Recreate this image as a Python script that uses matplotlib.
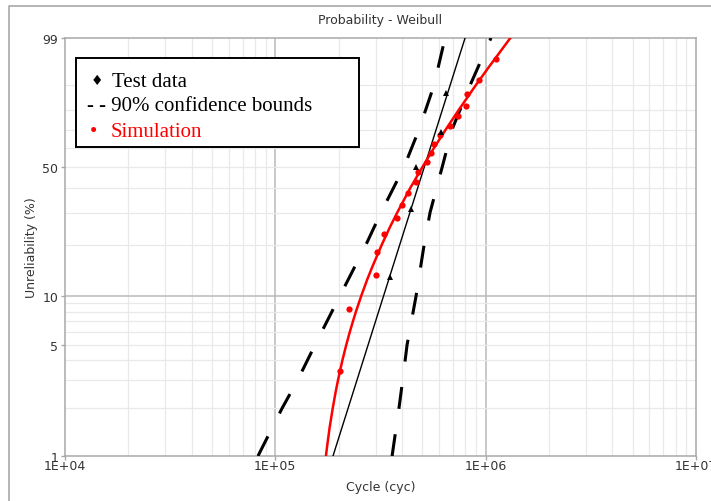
import numpy as np
import matplotlib
matplotlib.use('Agg')
import matplotlib.pyplot as plt
from matplotlib.lines import Line2D
from matplotlib.patches import Rectangle

#
# data (cycles, unreliability in %)
#
test_cyc = [3.51e5, 4.42e5, 4.67e5, 6.14e5, 6.48e5]
test_unrel = [12.94, 31.38, 50.0, 68.62, 87.06]

fit_cyc = [1.88e5, 7.98e5]
fit_unrel = [1.0, 99.0]

sim_cyc = [2.03e5, 2.24e5, 3.01e5, 3.04e5, 3.29e5, 3.79e5, 4.00e5, 4.28e5, 4.67e5, 4.77e5,
           5.27e5, 5.50e5, 5.68e5, 6.07e5, 6.77e5, 7.39e5, 8.07e5, 8.15e5, 9.30e5, 1.12e6]
sim_unrel = [3.43, 8.33, 13.24, 18.14, 23.04, 27.94, 32.84, 37.75, 42.65, 47.55,
             52.45, 57.35, 62.25, 67.16, 72.06, 76.96, 81.86, 86.76, 91.67, 96.57]

simfit_cyc = [1.74e5, 1.77e5, 1.81e5, 1.874e5, 1.931e5, 1.985e5, 2.083e5, 2.174e5, 2.259e5,
              2.34e5, 2.416e5, 2.563e5, 2.734e5, 2.90e5, 3.21e5, 3.505e5, 3.80e5, 4.38e5,
              5.00e5, 5.67e5, 6.46e5, 7.46e5, 8.97e5, 1.033e6, 1.31e6]
simfit_unrel = [1, 1.2, 1.5, 2, 2.5, 3, 4, 5, 6, 7, 8, 10, 12.5, 15, 20, 25, 30, 40,
                50, 60, 70, 80, 90, 95, 99]

bound_unrel = [1, 2, 3, 5, 10, 20, 30, 50, 70, 90, 99]
lower_cyc = [8.27e4, 1.076e5, 1.275e5, 1.545e5, 2.03e5, 2.70e5, 3.18e5, 4.09e5, 4.82e5, 5.68e5, 6.41e5]
upper_cyc = [3.59e5, 3.87e5, 4.03e5, 4.23e5, 4.67e5, 5.10e5, 5.44e5, 6.21e5, 6.92e5, 8.43e5, 1.06e6]

xtick_vals = [1e4, 1e5, 1e6, 1e7]
xtick_labels = ['1E+04', '1E+05', '1E+06', '1E+07']
ytick_vals = [1, 5, 10, 50, 99]
ytick_labels = ['1', '5', '10', '50', '99']
ygrid_vals = [2, 3, 4, 5, 6, 7, 8, 9, 20, 30, 40, 50, 60, 70, 80, 90]


def weib(p):
    p = np.clip(np.asarray(p, dtype=float), 1e-6, 100 - 1e-6)
    return np.log(-np.log(1 - p / 100.))


def weib_inv(w):
    return 100. * (1 - np.exp(-np.exp(np.asarray(w, dtype=float))))


W, H = 711, 502
fig = plt.figure(figsize=(W / 100., H / 100.), dpi=100, facecolor='w')
ax = fig.add_axes([65. / W, 1 - 457. / H, (696. - 65.) / W, (457. - 39.) / H])
ax.set_xscale('log')
ax.set_yscale('function', functions=(weib, weib_inv))
ax.set_xlim(1e4, 1e7)
ax.set_ylim(1, 99)

# grid
light = '#e9e9e9'
dark = '#b9b9b9'
for dec in [1e4, 1e5, 1e6]:
    for m in range(2, 10):
        ax.axvline(dec * m, color=light, lw=0.9, zorder=0)
for v in [1e5, 1e6]:
    ax.axvline(v, color=dark, lw=1.1, zorder=0)
for v in ygrid_vals:
    ax.axhline(v, color=light, lw=0.9, zorder=0)
ax.axhline(10, color=dark, lw=1.1, zorder=0)

# curves
ax.plot(lower_cyc, bound_unrel, color='k', lw=2.2, dashes=(7.2, 8.4), zorder=3)
ax.plot(upper_cyc, bound_unrel, color='k', lw=2.2, dashes=(7.2, 8.4), zorder=3)
ax.plot(fit_cyc, fit_unrel, color='k', lw=1.0, zorder=4)
ax.plot(simfit_cyc, simfit_unrel, color='#ff0000', lw=1.8, zorder=5)
ax.plot(sim_cyc, sim_unrel, 'o', color='#ff0000', ms=4.5, mew=0, zorder=6)
ax.plot(test_cyc, test_unrel, '^', color='k', ms=4, mew=0, zorder=7)

# axes look
for s in ax.spines.values():
    s.set_color('#a8a8a8')
    s.set_linewidth(1.1)
ax.set_xticks(xtick_vals)
ax.set_xticklabels(xtick_labels)
ax.xaxis.set_minor_locator(matplotlib.ticker.NullLocator())
ax.set_yticks(ytick_vals)
ax.set_yticklabels(ytick_labels)
ax.yaxis.set_minor_locator(matplotlib.ticker.NullLocator())
ax.tick_params(length=3, width=1, color='#a8a8a8', labelsize=9, labelcolor='#333333')
ax.tick_params(axis='x', pad=-1)
ax.tick_params(axis='y', pad=2)
ax.set_xlabel('Cycle (cyc)', fontsize=9, color='#333333', labelpad=6)
ax.set_ylabel('Unreliability (%)', fontsize=9, color='#333333', labelpad=3)
ax.set_title('Probability - Weibull', fontsize=9, color='#333333', pad=11)

# outer frame
fig.add_artist(Line2D([9. / W, 9. / W, 1.0], [0.0, 1 - 7. / H, 1 - 7. / H],
                      transform=fig.transFigure, color='#a8a8a8', lw=1.2))

# legend box
fig.add_artist(Rectangle((76. / W, 1 - 148. / H), (359. - 76.) / W, (148. - 59.) / H,
                         transform=fig.transFigure, facecolor='w', edgecolor='k',
                         lw=1.4, zorder=10))
serif = ['Liberation Serif', 'DejaVu Serif']
fig.text(97. / W, 1 - 81. / H, '\u2666', fontsize=10, family=['DejaVu Sans'],
         ha='center', va='center', color='k', zorder=11)
fig.text(112. / W, 1 - 87. / H, 'Test data', fontsize=15, family=serif,
         va='baseline', color='k', zorder=11)
fig.text(87. / W, 1 - 111. / H, '- - 90% confidence bounds', fontsize=15, family=serif,
         va='baseline', color='k', zorder=11)
fig.text(93. / W, 1 - 132. / H, '\u2022', fontsize=15, family=serif,
         ha='center', va='center', color='#ff0000', zorder=11)
fig.text(111. / W, 1 - 137. / H, 'Simulation', fontsize=15, family=serif,
         va='baseline', color='#ff0000', zorder=11)

fig.savefig('out.png', dpi=100, facecolor='w')
